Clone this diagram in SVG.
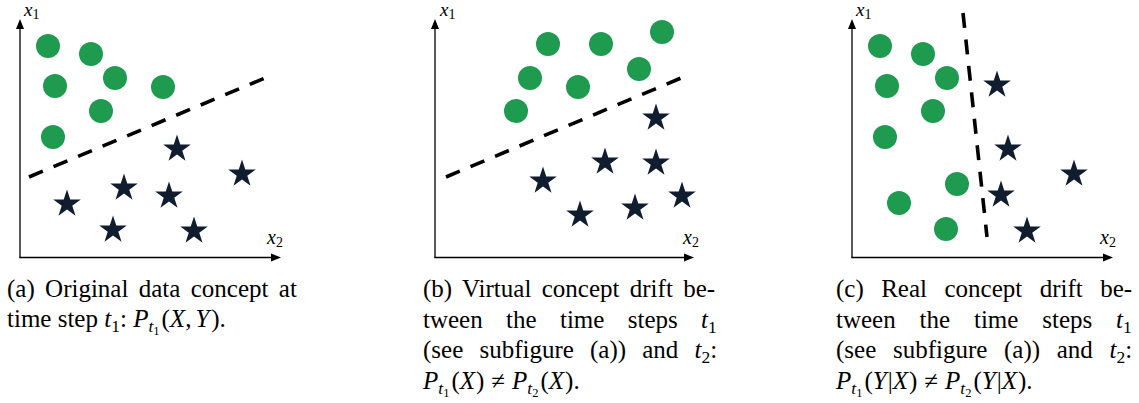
<svg xmlns="http://www.w3.org/2000/svg" width="1139" height="403" viewBox="0 0 1139 403">
<style>
.ax{stroke:#000;stroke-width:1.3;fill:none}
.ah{fill:#000}
.dl{stroke:#000;stroke-width:3.6;stroke-dasharray:15 11.6;fill:none}
.c{fill:#1e9b4f}
.s{fill:#101d2f}
</style>
<defs>
<polygon id="star" points="0,-14.5 3.26,-4.48 13.79,-4.48 5.27,1.71 8.52,11.73 0,5.54 -8.52,11.73 -5.27,1.71 -13.79,-4.48 -3.26,-4.48"/>
</defs>

<g id="panel-a">
<g id="axes-a">
<line class="ax" x1="20" y1="258" x2="20" y2="27"/>
<polygon class="ah" points="20,19 16,29 24,29"/>
<line class="ax" x1="19.4" y1="257.5" x2="272" y2="257.5"/>
<polygon class="ah" points="281,257.5 271,253.5 271,261.5"/>
<text font-family="Liberation Serif" font-size="19" x="24" y="16"><tspan font-style="italic">x</tspan><tspan font-size="14" dy="3">1</tspan></text>
<text font-family="Liberation Serif" font-size="20" x="267" y="244"><tspan font-style="italic">x</tspan><tspan font-size="14" dy="3">2</tspan></text>
</g>
<g id="circles-a" class="c">
<circle cx="48" cy="46" r="12"/><circle cx="91" cy="54" r="12"/><circle cx="55" cy="86" r="12"/><circle cx="115" cy="78" r="12"/><circle cx="163" cy="87" r="12"/><circle cx="101" cy="111" r="12"/><circle cx="53" cy="137" r="12"/>
</g>
<g id="stars-a" class="s">
<use href="#star" x="177" y="149"/><use href="#star" x="242" y="174"/><use href="#star" x="124" y="188"/><use href="#star" x="169" y="196"/><use href="#star" x="67" y="204"/><use href="#star" x="113" y="230"/><use href="#star" x="194" y="231"/>
</g>
<line id="boundary-a" class="dl" x1="29" y1="177" x2="265" y2="78"/>
</g>

<g id="panel-b">
<g id="axes-b">
<line class="ax" x1="435" y1="258" x2="435" y2="27"/>
<polygon class="ah" points="435,19 431,29 439,29"/>
<line class="ax" x1="434.4" y1="257.5" x2="685" y2="257.5"/>
<polygon class="ah" points="694,257.5 684,253.5 684,261.5"/>
<text font-family="Liberation Serif" font-size="19" x="440" y="16"><tspan font-style="italic">x</tspan><tspan font-size="14" dy="3">1</tspan></text>
<text font-family="Liberation Serif" font-size="20" x="683" y="244"><tspan font-style="italic">x</tspan><tspan font-size="14" dy="3">2</tspan></text>
</g>
<g id="circles-b" class="c">
<circle cx="548" cy="44" r="12"/><circle cx="601" cy="44" r="12"/><circle cx="662" cy="32" r="12"/><circle cx="530" cy="78" r="12"/><circle cx="578" cy="87" r="12"/><circle cx="639" cy="69" r="12"/><circle cx="516" cy="111" r="12"/>
</g>
<g id="stars-b" class="s">
<use href="#star" x="656" y="118"/><use href="#star" x="605" y="162"/><use href="#star" x="656" y="163"/><use href="#star" x="543" y="181"/><use href="#star" x="682" y="196"/><use href="#star" x="635" y="208"/><use href="#star" x="580" y="215"/>
</g>
<line id="boundary-b" class="dl" x1="446" y1="177" x2="681" y2="78"/>
</g>

<g id="panel-c">
<g id="axes-c">
<line class="ax" x1="852" y1="258" x2="852" y2="27"/>
<polygon class="ah" points="852,19 848,29 856,29"/>
<line class="ax" x1="851.4" y1="257.5" x2="1104" y2="257.5"/>
<polygon class="ah" points="1113,257.5 1103,253.5 1103,261.5"/>
<text font-family="Liberation Serif" font-size="19" x="856" y="16"><tspan font-style="italic">x</tspan><tspan font-size="14" dy="3">1</tspan></text>
<text font-family="Liberation Serif" font-size="20" x="1100" y="244"><tspan font-style="italic">x</tspan><tspan font-size="14" dy="3">2</tspan></text>
</g>
<g id="circles-c" class="c">
<circle cx="880" cy="46" r="12"/><circle cx="923" cy="54" r="12"/><circle cx="887" cy="86" r="12"/><circle cx="947" cy="78" r="12"/><circle cx="933" cy="111" r="12"/><circle cx="885" cy="137" r="12"/><circle cx="957" cy="184" r="12"/><circle cx="899" cy="203" r="12"/><circle cx="946" cy="229" r="12"/>
</g>
<g id="stars-c" class="s">
<use href="#star" x="997" y="85"/><use href="#star" x="1008" y="149"/><use href="#star" x="1074" y="174"/><use href="#star" x="1001" y="195"/><use href="#star" x="1027" y="231"/>
</g>
<line id="boundary-c" class="dl" x1="963" y1="13" x2="987" y2="237"/>
</g>

<g id="caption-a">
<text font-family="Liberation Serif" font-size="25" x="7" y="297" word-spacing="4.1">(a) Original data concept at</text>
<text font-family="Liberation Serif" font-size="25" x="7" y="327">time step <tspan font-style="italic">t</tspan><tspan font-size="17.5" dy="5">1</tspan><tspan dy="-5">: </tspan><tspan font-style="italic">P</tspan><tspan font-style="italic" font-size="17.5" dy="5">t</tspan><tspan font-size="12.5" dy="3">1</tspan><tspan dy="-8" dx="2">(</tspan><tspan font-style="italic">X</tspan><tspan>,</tspan><tspan font-style="italic" dx="4">Y</tspan><tspan dx="2">).</tspan></text>
</g>

<g id="caption-b">
<text font-family="Liberation Serif" font-size="25" x="423" y="297" word-spacing="4.1">(b) Virtual concept drift be-</text>
<text font-family="Liberation Serif" font-size="25" x="423" y="327.5" word-spacing="17.1">tween the time steps <tspan font-style="italic">t</tspan><tspan font-size="17.5" dy="5">1</tspan></text>
<text font-family="Liberation Serif" font-size="25" x="423" y="358" word-spacing="9.9">(see subfigure (a)) and <tspan font-style="italic">t</tspan><tspan font-size="17.5" dy="5">2</tspan><tspan dy="-5">:</tspan></text>
<text font-family="Liberation Serif" font-size="25" x="423" y="388.5"><tspan font-style="italic">P</tspan><tspan font-style="italic" font-size="17.5" dy="5">t</tspan><tspan font-size="12.5" dy="3">1</tspan><tspan dy="-8" dx="2">(</tspan><tspan font-style="italic">X</tspan><tspan dx="1">)</tspan><tspan dx="7">&#8800;</tspan><tspan font-style="italic" dx="7">P</tspan><tspan font-style="italic" font-size="17.5" dy="5">t</tspan><tspan font-size="12.5" dy="3">2</tspan><tspan dy="-8" dx="2">(</tspan><tspan font-style="italic">X</tspan><tspan dx="1">).</tspan></text>
</g>

<g id="caption-c">
<text font-family="Liberation Serif" font-size="25" x="836" y="297" word-spacing="11.2">(c) Real concept drift be-</text>
<text font-family="Liberation Serif" font-size="25" x="836" y="327.5" word-spacing="17.6">tween the time steps <tspan font-style="italic">t</tspan><tspan font-size="17.5" dy="5">1</tspan></text>
<text font-family="Liberation Serif" font-size="25" x="836" y="358" word-spacing="10.4">(see subfigure (a)) and <tspan font-style="italic">t</tspan><tspan font-size="17.5" dy="5">2</tspan><tspan dy="-5">:</tspan></text>
<text font-family="Liberation Serif" font-size="25" x="836" y="388.5"><tspan font-style="italic">P</tspan><tspan font-style="italic" font-size="17.5" dy="5">t</tspan><tspan font-size="12.5" dy="3">1</tspan><tspan dy="-8" dx="2">(</tspan><tspan font-style="italic">Y</tspan><tspan dx="1">|</tspan><tspan font-style="italic">X</tspan><tspan dx="1">)</tspan><tspan dx="7">&#8800;</tspan><tspan font-style="italic" dx="7">P</tspan><tspan font-style="italic" font-size="17.5" dy="5">t</tspan><tspan font-size="12.5" dy="3">2</tspan><tspan dy="-8" dx="2">(</tspan><tspan font-style="italic">Y</tspan><tspan dx="1">|</tspan><tspan font-style="italic">X</tspan><tspan dx="1">).</tspan></text>
</g>
</svg>
